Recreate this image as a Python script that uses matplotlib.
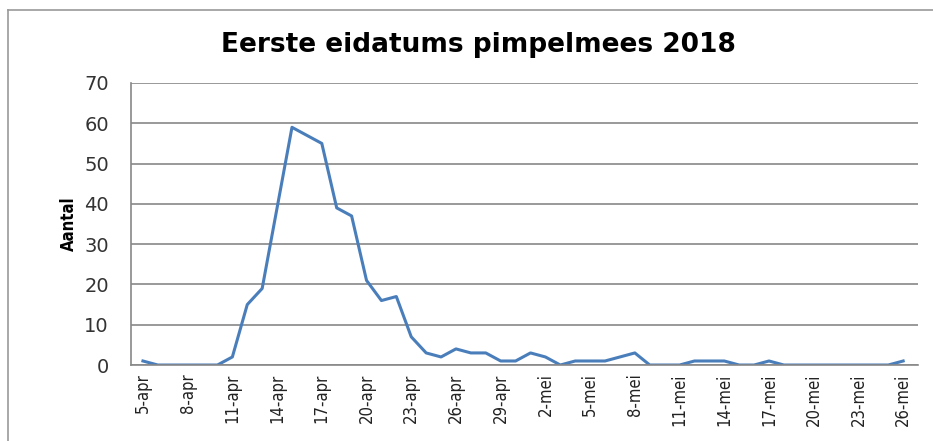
import matplotlib
matplotlib.use('Agg')
import matplotlib.pyplot as plt
from matplotlib.lines import Line2D

# daily counts, 5-apr .. 26-mei
apr_days = list(range(5, 31))
apr_counts = [1, 0, 0, 0, 0, 0, 2, 15, 19, 39, 59, 57, 55, 39, 37, 21, 16, 17, 7, 3, 2, 4, 3, 3, 1, 1]
mei_days = list(range(1, 27))
mei_counts = [3, 2, 0, 1, 1, 1, 2, 3, 0, 0, 0, 1, 1, 1, 0, 0, 1, 0, 0, 0, 0, 0, 0, 0, 0, 1]

labels = [f'{d}-apr' for d in apr_days] + [f'{d}-mei' for d in mei_days]
counts = apr_counts + mei_counts
x = list(range(len(counts)))

fig = plt.figure(figsize=(9.33, 4.41), dpi=100)
ax = fig.add_axes([0.1404, 0.1723, 0.8436, 0.6395])

ax.plot(x, counts, color='#4a7ebb', linewidth=2.2, solid_joinstyle='round')

ax.set_xlim(-0.8, len(counts))
ax.set_ylim(0, 70)
ax.set_yticks(range(0, 71, 10))
ax.set_xticks(x[::3])
ax.set_xticklabels(labels[::3], rotation=90, fontsize=12, fontstretch='condensed', color='#222222')
for t in ax.get_yticklabels():
    t.set_fontsize(14)
    t.set_color('#333333')
ax.tick_params(axis='both', length=0)
ax.tick_params(axis='y', pad=16)
ax.tick_params(axis='x', pad=6)

ax.grid(axis='y', color='#888888', linewidth=1.2)
ax.set_axisbelow(True)
for side in ['top', 'right']:
    ax.spines[side].set_visible(False)
for side in ['left', 'bottom']:
    ax.spines[side].set_color('#888888')
    ax.spines[side].set_linewidth(1.2)

ax.set_ylabel('Aantal', fontsize=12, fontweight='bold', fontstretch='condensed')
ax.yaxis.set_label_coords(-0.068, 0.5)

fig.text(0.513, 0.898, 'Eerste eidatums pimpelmees 2018', ha='center', va='center',
         fontsize=19, fontweight='bold')

# outer chart border (left and top edge visible)
fig.add_artist(Line2D([8 / 933, 8 / 933], [0, 1 - 10 / 441], color='#999999', linewidth=1.2))
fig.add_artist(Line2D([8 / 933, 1], [1 - 10 / 441, 1 - 10 / 441], color='#999999', linewidth=1.2))

fig.savefig('out.png', dpi=100)
